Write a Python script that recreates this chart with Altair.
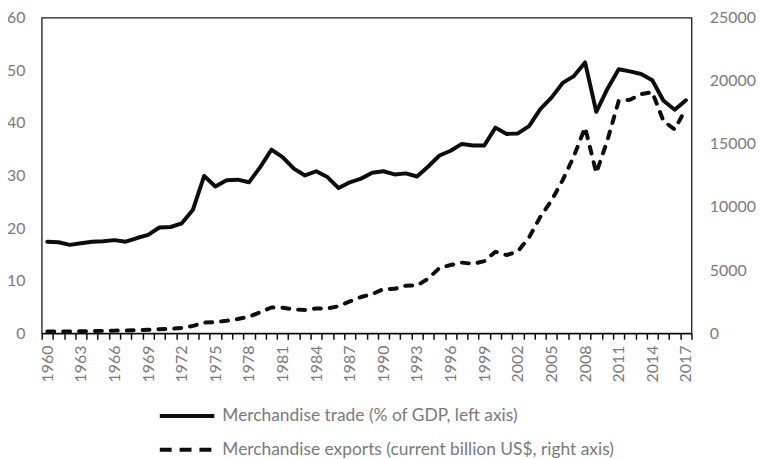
import altair as alt
import pandas as pd

years = list(range(1960, 2018))

trade_pct_gdp = [
    17.4, 17.3, 16.8, 17.1, 17.4, 17.5, 17.7, 17.4, 18.1, 18.7,
    20.1, 20.2, 20.9, 23.5, 29.9, 27.9, 29.1, 29.2, 28.7, 31.6,
    34.9, 33.5, 31.3, 30.0, 30.8, 29.7, 27.6, 28.7, 29.4, 30.5,
    30.8, 30.2, 30.4, 29.8, 31.7, 33.8, 34.7, 36.0, 35.7, 35.7,
    39.1, 37.9, 38.0, 39.4, 42.6, 44.8, 47.6, 48.9, 51.5, 42.1,
    46.5, 50.2, 49.8, 49.3, 48.1, 44.2, 42.5, 44.3,
]

exports_bn = [
    130, 135, 142, 156, 174, 187, 205, 215, 240, 275,
    317, 351, 418, 577, 840, 877, 990, 1127, 1305, 1656,
    2036, 2011, 1883, 1845, 1955, 1954, 2139, 2516, 2869, 3098,
    3490, 3515, 3766, 3782, 4326, 5168, 5403, 5592, 5501, 5712,
    6452, 6191, 6492, 7586, 9218, 10509, 12131, 14023, 16300, 12700,
    15301, 18400, 18496, 18950, 19100, 16800, 16150, 17800,
]

series_names = [
    "Merchandise trade (% of GDP, left axis)",
    "Merchandise exports (current billion US$, right axis)",
]

left_ticks = [0, 10, 20, 30, 40, 50, 60]
right_ticks = [0, 5000, 10000, 15000, 20000, 25000]

df = pd.DataFrame({
    "year": years * 2,
    "series": [series_names[0]] * len(years) + [series_names[1]] * len(years),
    "value": trade_pct_gdp + exports_bn,
})

FONT = "Lato"
GRAY = "#7a7a7a"
INK = "#0d0d0d"
FS = 16
LFS = 17.5

x_enc = alt.X(
    "year:O",
    scale=alt.Scale(type="band", paddingInner=0, paddingOuter=0),
    axis=alt.Axis(
        title=None, labelAngle=-90,
        labelExpr="(datum.value - 1960) % 3 == 0 ? datum.label : ''",
        labelOverlap=False, tickBand="extent", ticks=True, tickSize=6,
        tickColor=INK, tickWidth=1.5, domainColor=INK, domainWidth=1.5,
        labelPadding=6, labelColor=GRAY, labelFont=FONT, labelFontSize=FS,
        grid=False,
    ),
)

def legend(y, dash):
    return alt.Legend(
        title=None, orient="none", legendX=117, legendY=y,
        symbolType="stroke", symbolSize=3025, symbolStrokeWidth=4,
        symbolStrokeColor=INK, symbolDash=dash,
        labelFont=FONT, labelFontSize=LFS, labelColor=GRAY, labelOffset=6,
        labelLimit=0, padding=0,
    )

base = alt.Chart(df)

trade = base.transform_filter(alt.datum.series == series_names[0]).mark_line(
    strokeWidth=4, strokeJoin="round", strokeCap="round"
).encode(
    x=x_enc,
    y=alt.Y(
        "value:Q",
        scale=alt.Scale(domain=[0, 60], nice=False),
        axis=alt.Axis(
            title=None, orient="left", values=left_ticks, ticks=False,
            domain=False, grid=False, labelPadding=17, labelColor=GRAY,
            labelFont=FONT, labelFontSize=FS,
        ),
    ),
    color=alt.Color(
        "series:N",
        scale=alt.Scale(domain=[series_names[0]], range=[INK]),
        legend=legend(372, [1, 0]),
    ),
)

exports = base.transform_filter(alt.datum.series == series_names[1]).mark_line(
    strokeWidth=4, strokeJoin="round", strokeCap="round", strokeDash=[7, 9]
).encode(
    x=x_enc,
    y=alt.Y(
        "value:Q",
        scale=alt.Scale(domain=[0, 25000], nice=False),
        axis=alt.Axis(
            title=None, orient="right", values=right_ticks, ticks=False,
            domain=False, grid=False, labelPadding=18, labelColor=GRAY,
            labelFont=FONT, labelFontSize=FS, format="d",
        ),
    ),
    color=alt.Color(
        "series:N",
        scale=alt.Scale(domain=[series_names[1]], range=[INK]),
        legend=legend(406, [12, 8]),
    ),
)

chart = alt.layer(trade, exports).resolve_scale(
    y="independent", color="independent"
).resolve_legend(color="independent").properties(
    width=655, height=318,
    autosize=alt.AutoSizeParams(type="none"),
    padding={"left": 34, "top": 8, "right": 65, "bottom": 125},
).configure_view(stroke="#1a1a1a", strokeWidth=1.3)

chart.save("out.html", embed_options={"renderer": "svg", "actions": False})
